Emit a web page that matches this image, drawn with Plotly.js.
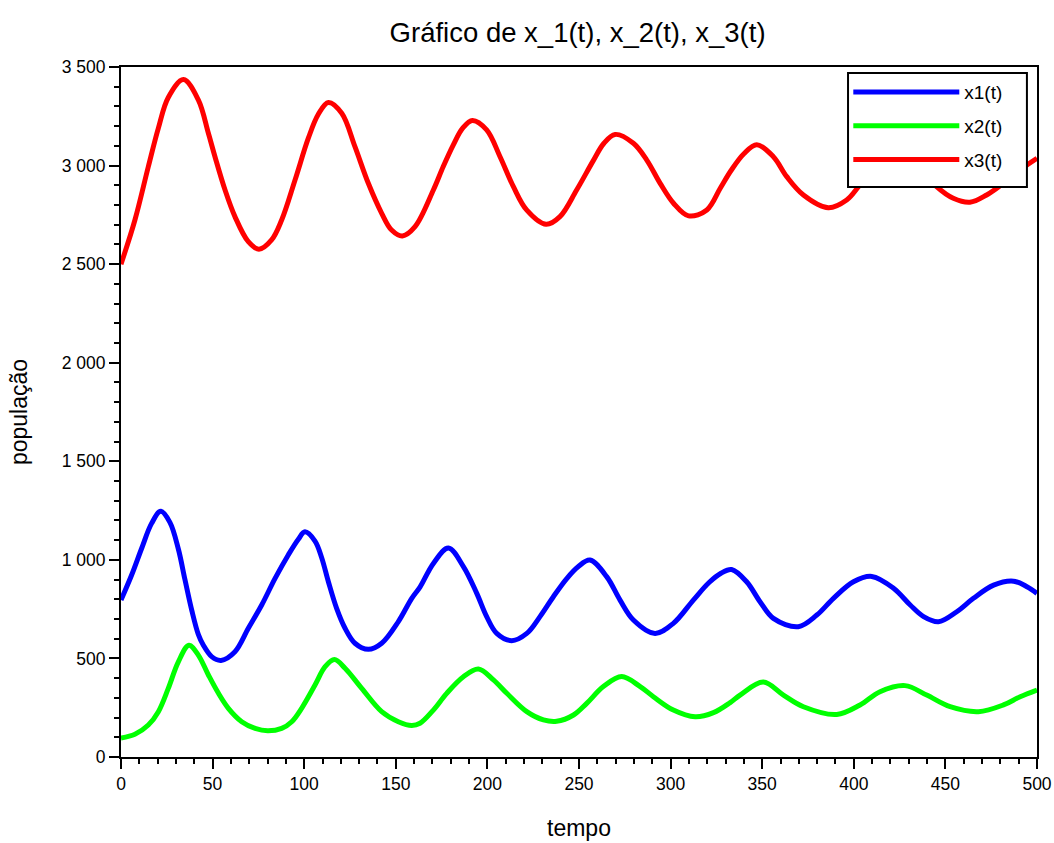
<!DOCTYPE html>
<html>
<head>
<meta charset="utf-8">
<script src="https://cdn.plot.ly/plotly-3.0.1.min.js"></script>
<style>html,body{margin:0;padding:0;background:#fff;}#chart{width:1054px;height:843px;}</style>
</head>
<body>
<div id="chart"></div>
<script>
// x1(t) - blue
const t1 = [0, 5.8, 11.3, 16.7, 21.7, 26.7, 31.3, 34.9, 38.6, 42.2, 44.9, 49.5, 54.6, 62.2, 69.5, 76.8, 84.1, 91.3, 96.8, 100.4, 105.9, 109.5, 113.2, 117.7, 122.3, 127.7, 135, 142.3, 151.4, 158.7, 163.2, 170.5, 178.7, 186.9, 194.2, 199.6, 205.1, 213.3, 221.5, 228.7, 236, 243.3, 249.5, 256, 265.1, 272.4, 279.7, 291.5, 301.5, 312.4, 321, 327.5, 333.3, 341.5, 348.8, 356.1, 369.7, 379.8, 388.9, 399.8, 409.8, 421.7, 430.8, 438.1, 446.2, 456.2, 465.3, 476.3, 487.2, 494.5, 500];
const x1 = [796, 923, 1059, 1185, 1246, 1190, 1055, 900, 745, 622, 568, 509, 490, 534, 653, 771, 906, 1025, 1105, 1142, 1095, 1012, 889, 754, 653, 577, 546, 577, 687, 805, 862, 982, 1060, 966, 830, 712, 627, 590, 627, 712, 813, 905, 965, 999, 915, 796, 695, 627, 678, 796, 885, 932, 951, 889, 788, 703, 661, 720, 805, 889, 916, 856, 771, 712, 686, 737, 805, 872, 892, 864, 830];
// x2(t) - green
const t2 = [0, 7.6, 14.9, 20.4, 25.8, 31.3, 37.1, 42.2, 47.7, 53.2, 58.6, 65.9, 73.2, 80.1, 87.7, 93.2, 98.6, 105.9, 111.4, 116.5, 122.3, 131.4, 142.3, 151.4, 158.7, 163.2, 170.5, 177.8, 186.9, 195.1, 203.3, 210.6, 221.5, 230.6, 237.8, 247, 254.2, 263.3, 273.3, 283.4, 290.6, 301.5, 313.4, 323.4, 332.5, 337.9, 350.6, 361.6, 372.5, 390.7, 403.4, 414.3, 428, 439.8, 452.6, 468, 481.7, 490.8, 500];
const x2 = [96, 115, 162, 230, 348, 483, 567, 517, 416, 323, 247, 179, 145, 133, 145, 179, 247, 365, 458, 494, 450, 348, 230, 179, 160, 171, 238, 323, 407, 446, 391, 323, 230, 188, 181, 213, 272, 357, 408, 357, 306, 238, 204, 225, 276, 314, 380, 314, 255, 216, 264, 331, 362, 314, 255, 230, 264, 306, 340];
// x3(t) - red
const t3 = [0, 7.6, 14.9, 20.4, 25.8, 34.1, 42.2, 47.7, 51.3, 56.8, 62.2, 69.5, 75.3, 82.2, 87.7, 95, 102.3, 107.7, 113.2, 120.5, 127.7, 135, 142.3, 147.7, 153.6, 160.5, 170.5, 175.9, 181.4, 186.5, 191.8, 199.6, 206.9, 214.2, 221.4, 232, 239.6, 248.7, 257.8, 263.5, 269.7, 279.7, 287, 294.3, 301.6, 309.8, 319.8, 327.1, 333, 340, 347, 356.1, 363.4, 372.5, 386.1, 396.1, 403.4, 414, 425, 435, 445.2, 454.3, 463.4, 472.5, 481.6, 490.7, 500];
const x3 = [2500, 2724, 2994, 3190, 3345, 3436, 3333, 3164, 3045, 2876, 2741, 2614, 2576, 2623, 2724, 2927, 3140, 3260, 3320, 3265, 3096, 2910, 2758, 2673, 2643, 2690, 2876, 2995, 3105, 3190, 3229, 3181, 3045, 2893, 2775, 2702, 2741, 2876, 3025, 3112, 3158, 3113, 3028, 2910, 2809, 2745, 2775, 2885, 2975, 3060, 3106, 3045, 2944, 2851, 2786, 2825, 2902, 3010, 3068, 3000, 2893, 2834, 2814, 2851, 2910, 2978, 3037];

const names = ['x1(t)', 'x2(t)', 'x3(t)'];
const colors = ['#0000ff', '#00ff00', '#ff0000'];
const xs = [t1, t2, t3];
const ys = [x1, x2, x3];

const traces = names.map((n, i) => ({
  x: xs[i], y: ys[i], name: n, legendgroup: 'g' + i, type: 'scatter', mode: 'lines',
  line: {color: colors[i], width: 5, shape: 'spline', smoothing: 1}
}));

const FONT = 'Liberation Sans, Arial, sans-serif';
const axisCommon = {
  showgrid: false, zeroline: false, showline: true, linecolor: '#000', linewidth: 2,
  mirror: true, ticks: 'outside', ticklen: 10, tickwidth: 2, tickcolor: '#000',
  tickfont: {family: FONT, size: 17.5, color: '#000'},
};

const layout = {
  width: 1054, height: 843,
  margin: {l: 121, r: 17, t: 67, b: 86},
  paper_bgcolor: '#fff', plot_bgcolor: '#fff',
  separators: ', ',
  font: {family: FONT, color: '#000'},
  title: {text: 'Gráfico de x_1(t), x_2(t), x_3(t)', x: 0.548, xanchor: 'center', y: 0.962, yanchor: 'middle',
          font: {size: 27.5, color: '#000'}},
  xaxis: Object.assign({}, axisCommon, {
    range: [0, 500], dtick: 50, tick0: 0,
    minor: {ticks: 'outside', ticklen: 5, tickwidth: 2, tickcolor: '#000', dtick: 10, showgrid: false},
    title: {text: 'tempo', font: {size: 23}, standoff: 27}
  }),
  yaxis: Object.assign({}, axisCommon, {
    range: [0, 3500], dtick: 500, tick0: 0, separatethousands: true,
    minor: {ticks: 'outside', ticklen: 5, tickwidth: 2, tickcolor: '#000', dtick: 100, showgrid: false},
    title: {text: 'população', font: {size: 23}, standoff: 28}
  }),
  // legend frame (white box with black border) drawn behind the legend entries
  shapes: [{type: 'rect', xref: 'paper', yref: 'paper', layer: 'above',
            x0: 0.7937, x1: 0.989, y0: 0.826, y1: 0.9913,
            fillcolor: '#fff', line: {color: '#000', width: 2}}],
  showlegend: true,
  legend: {x: 0.794, y: 0.991, xanchor: 'left', yanchor: 'top',
           bgcolor: 'rgba(0,0,0,0)', borderwidth: 0, tracegroupgap: 6,
           font: {size: 19, color: '#000'}, itemwidth: 106}
};

Plotly.newPlot('chart', traces, layout, {displayModeBar: false});
</script>
</body>
</html>
